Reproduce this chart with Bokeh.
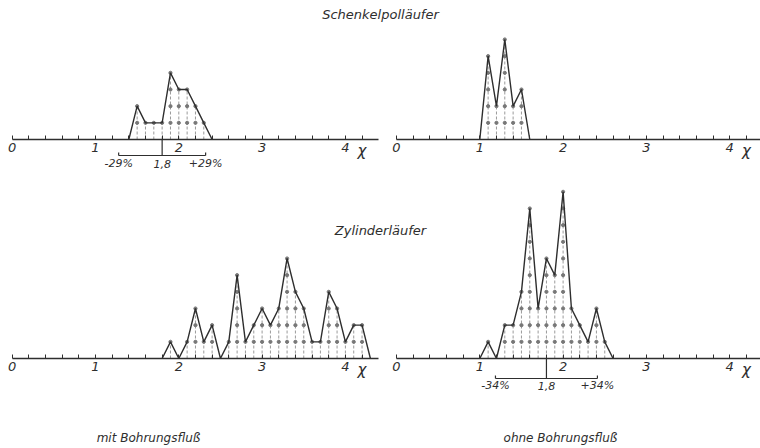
from bokeh.plotting import figure
from bokeh.models import Range1d, LinearAxis, FixedTicker, Label
from bokeh.embed import file_html
from bokeh.resources import INLINE

# ---------------- data ----------------
# chi class midpoints and frequencies
sp_mit_x = [1.4, 1.5, 1.6, 1.7, 1.8, 1.9, 2.0, 2.1, 2.2, 2.3, 2.4]
sp_mit_n = [0, 2, 1, 1, 1, 4, 3, 3, 2, 1, 0]

sp_ohne_x = [1.0, 1.1, 1.2, 1.3, 1.4, 1.5, 1.6]
sp_ohne_n = [0, 5, 2, 6, 2, 3, 0]

zy_mit_x = [1.8, 1.9, 2.0, 2.1, 2.2, 2.3, 2.4, 2.5, 2.6, 2.7, 2.8, 2.9, 3.0,
            3.1, 3.2, 3.3, 3.4, 3.5, 3.6, 3.7, 3.8, 3.9, 4.0, 4.1, 4.2, 4.3]
zy_mit_n = [0, 1, 0, 1, 3, 1, 2, 0, 1, 5, 1, 2, 3,
            2, 3, 6, 4, 3, 1, 1, 4, 3, 1, 2, 2, 0]

zy_ohne_x = [1.0, 1.1, 1.2, 1.3, 1.4, 1.5, 1.6, 1.7, 1.8, 1.9, 2.0, 2.1, 2.2,
             2.3, 2.4, 2.5, 2.6]
zy_ohne_n = [0, 1, 0, 2, 2, 4, 9, 3, 6, 5, 10, 3, 2, 1, 3, 1, 0]

# mean value and spread marked under two of the panels
sp_mit_mean, sp_mit_spread = 1.8, 0.29
zy_ohne_mean, zy_ohne_spread = 1.8, 0.34

major_ticks = [0, 1, 2, 3, 4]
minor_ticks = [0.2, 0.4, 0.6, 0.8, 1.2, 1.4, 1.6, 1.8, 2.2, 2.4, 2.6, 2.8,
               3.2, 3.4, 3.6, 3.8, 4.2]
axis_end = 4.4

titles_top = "Schenkelpolläufer"
titles_mid = "Zylinderläufer"
foot_left = "mit Bohrungsfluß"
foot_right = "ohne Bohrungsfluß"

# ---------------- layout / style ----------------
W, H = 760, 448
PX_X = 83.3      # px per chi unit
PX_Y = 16.67     # px per count
FONT = "DejaVu Sans"
INK = "#2e2e2e"


def x_range_for(zero_px):
    s = -zero_px / PX_X
    return Range1d(s, s + W / PX_X)


def y_range_for(base_px_from_top):
    s = -(H - base_px_from_top) / PX_Y
    return Range1d(s, s + H / PX_Y)


p = figure(width=W, height=H, output_backend="svg", toolbar_location=None,
           x_axis_type=None, y_axis_type=None, min_border=0,
           x_range=x_range_for(11.7), y_range=y_range_for(139))
p.outline_line_color = None
p.background_fill_color = "white"
p.border_fill_color = "white"
p.extra_x_ranges = {"right": x_range_for(396)}
p.extra_y_ranges = {"bot": y_range_for(358)}


def px(v):
    return v / PX_Y


def panel(xs, ns, xr, yr):
    kw = {}
    if xr != "default":
        kw["x_range_name"] = xr
    if yr != "default":
        kw["y_range_name"] = yr
    # axis
    ax = LinearAxis(ticker=FixedTicker(ticks=major_ticks, minor_ticks=minor_ticks),
                    fixed_location=0, bounds=(0, axis_end), **kw)
    ax.axis_line_color = INK
    ax.axis_line_width = 1.3
    ax.major_tick_in = 4
    ax.major_tick_out = 0
    ax.minor_tick_in = 4
    ax.minor_tick_out = 0
    ax.major_tick_line_color = INK
    ax.minor_tick_line_color = INK
    ax.major_label_standoff = 3
    ax.major_label_text_font = FONT
    ax.major_label_text_font_style = "italic"
    ax.major_label_text_font_size = "13px"
    ax.major_label_text_color = INK
    p.add_layout(ax, "below")
    # chi symbol
    p.add_layout(Label(x=4.2, y=0, y_offset=-11, text="χ", text_align="center",
                       text_baseline="middle", text_font=FONT, text_font_style="italic",
                       text_font_size="15px", text_color=INK, **kw))
    # dashed verticals and dots
    vx = [x for x, n in zip(xs, ns) if n > 0]
    vn = [n for n in ns if n > 0]
    p.segment(x0=vx, y0=[0] * len(vx), x1=vx, y1=vn, line_color="#9a9a9a",
              line_width=1, line_dash="3 2", **kw)
    dx = [x for x, n in zip(xs, ns) for k in range(1, n + 1)]
    dy = [k for x, n in zip(xs, ns) for k in range(1, n + 1)]
    p.scatter(dx, dy, size=3.2, color="#777777", **kw)
    # frequency polygon
    p.line(xs, ns, line_color=INK, line_width=1.4, **kw)
    return kw


def spread(mean, s, kw, bar_px, lab_px):
    lo, hi = mean * (1 - s), mean * (1 + s)
    yb = px(-bar_px)
    p.segment(x0=[lo], y0=[yb], x1=[hi], y1=[yb], line_color=INK, line_width=1.2, **kw)
    p.segment(x0=[lo, hi], y0=[yb, yb], x1=[lo, hi], y1=[yb + px(3), yb + px(3)],
              line_color=INK, line_width=1.2, **kw)
    p.segment(x0=[mean], y0=[yb], x1=[mean], y1=[0], line_color=INK, line_width=1.2, **kw)
    yl = px(-lab_px)
    pct = int(round(s * 100))
    for x, t in [(lo, "-%d%%" % pct), (mean, ("%.1f" % mean).replace(".", ",")),
                 (hi, "+%d%%" % pct)]:
        p.add_layout(Label(x=x, y=yl, text=t, text_align="center", text_baseline="middle",
                           text_font=FONT, text_font_style="italic", text_font_size="11px",
                           text_color=INK, **kw))


kw_tl = panel(sp_mit_x, sp_mit_n, "default", "default")
kw_tr = panel(sp_ohne_x, sp_ohne_n, "right", "default")
kw_bl = panel(zy_mit_x, zy_mit_n, "default", "bot")
kw_br = panel(zy_ohne_x, zy_ohne_n, "right", "bot")

spread(sp_mit_mean, sp_mit_spread, kw_tl, 16, 24)
spread(zy_ohne_mean, zy_ohne_spread, kw_br, 20, 27)


def title(text, cx, cy_top, size="13px"):
    p.add_layout(Label(x=cx, y=H - cy_top, x_units="screen", y_units="screen", text=text,
                       text_align="center", text_baseline="middle", text_font=FONT,
                       text_font_style="italic", text_font_size=size, text_color=INK))


title(titles_top, 380, 14)
title(titles_mid, 380, 230)
title(foot_left, 148, 437, "12px")
title(foot_right, 560, 437, "12px")

open("out.html", "w").write(file_html(p, INLINE))
